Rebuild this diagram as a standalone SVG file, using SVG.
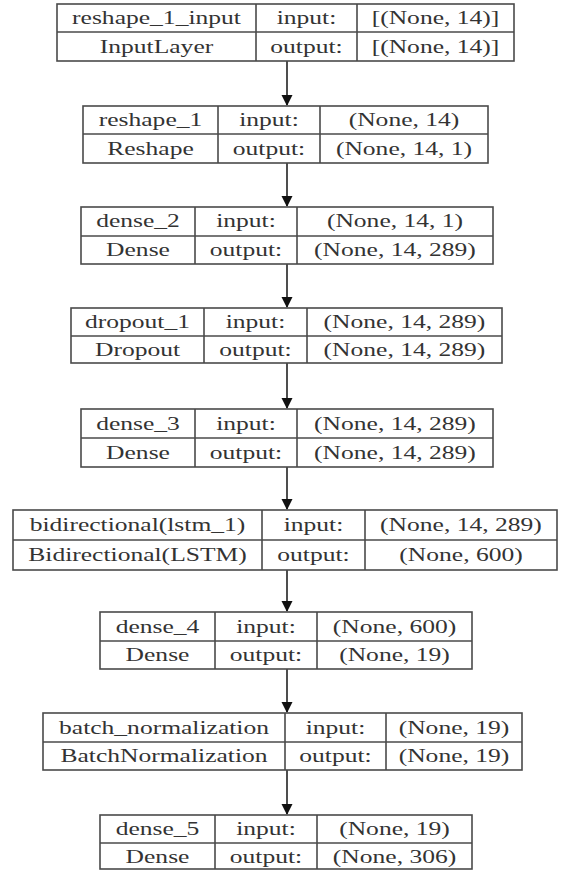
<svg xmlns="http://www.w3.org/2000/svg" width="565" height="871" viewBox="0 0 565 871">
<defs>
<style>
.box{fill:#fff;stroke:#4a4a4a;stroke-width:1.6}
.ln{stroke:#4a4a4a;stroke-width:1.6}
text{font-family:"Liberation Serif","Times New Roman",serif;font-size:18px;fill:#333;text-anchor:middle}
.edge{stroke:#222;stroke-width:1.6;fill:none}
</style>
<marker id="ah" markerWidth="12" markerHeight="12" refX="10" refY="5.5" orient="auto" markerUnits="userSpaceOnUse">
<path d="M0,0 L11,5.5 L0,11 z" fill="#111"/>
</marker>
</defs>
<rect width="565" height="871" fill="#fff"/>
<g id="connectors">
<line class="edge" x1="287" y1="61" x2="287" y2="105" marker-end="url(#ah)"/>
<line class="edge" x1="287" y1="163" x2="287" y2="206" marker-end="url(#ah)"/>
<line class="edge" x1="287" y1="264" x2="287" y2="307" marker-end="url(#ah)"/>
<line class="edge" x1="287" y1="363" x2="287" y2="408" marker-end="url(#ah)"/>
<line class="edge" x1="287" y1="467" x2="287" y2="509" marker-end="url(#ah)"/>
<line class="edge" x1="287" y1="570" x2="287" y2="611" marker-end="url(#ah)"/>
<line class="edge" x1="287" y1="669" x2="287" y2="712" marker-end="url(#ah)"/>
<line class="edge" x1="287" y1="770" x2="287" y2="814" marker-end="url(#ah)"/>
</g>
<g id="reshape_1_input">
<rect class="box" x="57" y="4" width="457" height="57"/>
<line class="ln" x1="57" y1="32" x2="514" y2="32"/>
<line class="ln" x1="256" y1="4" x2="256" y2="61"/>
<line class="ln" x1="357" y1="4" x2="357" y2="61"/>
<text transform="translate(156.5,24) scale(1.42,1)">reshape_1_input</text>
<text transform="translate(156.5,52.5) scale(1.42,1)">InputLayer</text>
<text transform="translate(306.5,24) scale(1.42,1)">input:</text>
<text transform="translate(306.5,52.5) scale(1.42,1)">output:</text>
<text transform="translate(435.5,24) scale(1.42,1)">[(None, 14)]</text>
<text transform="translate(435.5,52.5) scale(1.42,1)">[(None, 14)]</text>
</g>
<g id="reshape_1">
<rect class="box" x="83" y="106" width="405" height="57"/>
<line class="ln" x1="83" y1="134" x2="488" y2="134"/>
<line class="ln" x1="218" y1="106" x2="218" y2="163"/>
<line class="ln" x1="320" y1="106" x2="320" y2="163"/>
<text transform="translate(150.5,126) scale(1.42,1)">reshape_1</text>
<text transform="translate(150.5,154.5) scale(1.42,1)">Reshape</text>
<text transform="translate(269,126) scale(1.42,1)">input:</text>
<text transform="translate(269,154.5) scale(1.42,1)">output:</text>
<text transform="translate(404,126) scale(1.42,1)">(None, 14)</text>
<text transform="translate(404,154.5) scale(1.42,1)">(None, 14, 1)</text>
</g>
<g id="dense_2">
<rect class="box" x="81" y="207" width="412" height="57"/>
<line class="ln" x1="81" y1="236" x2="493" y2="236"/>
<line class="ln" x1="195" y1="207" x2="195" y2="264"/>
<line class="ln" x1="297" y1="207" x2="297" y2="264"/>
<text transform="translate(138,227) scale(1.42,1)">dense_2</text>
<text transform="translate(138,256) scale(1.42,1)">Dense</text>
<text transform="translate(246,227) scale(1.42,1)">input:</text>
<text transform="translate(246,256) scale(1.42,1)">output:</text>
<text transform="translate(395,227) scale(1.42,1)">(None, 14, 1)</text>
<text transform="translate(395,256) scale(1.42,1)">(None, 14, 289)</text>
</g>
<g id="dropout_1">
<rect class="box" x="71" y="308" width="431" height="55"/>
<line class="ln" x1="71" y1="336" x2="502" y2="336"/>
<line class="ln" x1="204" y1="308" x2="204" y2="363"/>
<line class="ln" x1="307" y1="308" x2="307" y2="363"/>
<text transform="translate(137.5,328) scale(1.42,1)">dropout_1</text>
<text transform="translate(137.5,355.5) scale(1.42,1)">Dropout</text>
<text transform="translate(255.5,328) scale(1.42,1)">input:</text>
<text transform="translate(255.5,355.5) scale(1.42,1)">output:</text>
<text transform="translate(404.5,328) scale(1.42,1)">(None, 14, 289)</text>
<text transform="translate(404.5,355.5) scale(1.42,1)">(None, 14, 289)</text>
</g>
<g id="dense_3">
<rect class="box" x="81" y="409" width="412" height="58"/>
<line class="ln" x1="81" y1="438" x2="493" y2="438"/>
<line class="ln" x1="195" y1="409" x2="195" y2="467"/>
<line class="ln" x1="297" y1="409" x2="297" y2="467"/>
<text transform="translate(138,429.5) scale(1.42,1)">dense_3</text>
<text transform="translate(138,458.5) scale(1.42,1)">Dense</text>
<text transform="translate(246,429.5) scale(1.42,1)">input:</text>
<text transform="translate(246,458.5) scale(1.42,1)">output:</text>
<text transform="translate(395,429.5) scale(1.42,1)">(None, 14, 289)</text>
<text transform="translate(395,458.5) scale(1.42,1)">(None, 14, 289)</text>
</g>
<g id="bidirectional">
<rect class="box" x="13" y="510" width="544" height="60"/>
<line class="ln" x1="13" y1="540" x2="557" y2="540"/>
<line class="ln" x1="262" y1="510" x2="262" y2="570"/>
<line class="ln" x1="365" y1="510" x2="365" y2="570"/>
<text transform="translate(137.5,531) scale(1.42,1)">bidirectional(lstm_1)</text>
<text transform="translate(137.5,561) scale(1.42,1)">Bidirectional(LSTM)</text>
<text transform="translate(313.5,531) scale(1.42,1)">input:</text>
<text transform="translate(313.5,561) scale(1.42,1)">output:</text>
<text transform="translate(461,531) scale(1.42,1)">(None, 14, 289)</text>
<text transform="translate(461,561) scale(1.42,1)">(None, 600)</text>
</g>
<g id="dense_4">
<rect class="box" x="100" y="612" width="372" height="57"/>
<line class="ln" x1="100" y1="641" x2="472" y2="641"/>
<line class="ln" x1="215" y1="612" x2="215" y2="669"/>
<line class="ln" x1="317" y1="612" x2="317" y2="669"/>
<text transform="translate(157.5,632.5) scale(1.42,1)">dense_4</text>
<text transform="translate(157.5,661) scale(1.42,1)">Dense</text>
<text transform="translate(266,632.5) scale(1.42,1)">input:</text>
<text transform="translate(266,661) scale(1.42,1)">output:</text>
<text transform="translate(394.5,632.5) scale(1.42,1)">(None, 600)</text>
<text transform="translate(394.5,661) scale(1.42,1)">(None, 19)</text>
</g>
<g id="batch_normalization">
<rect class="box" x="43" y="713" width="479" height="57"/>
<line class="ln" x1="43" y1="742" x2="522" y2="742"/>
<line class="ln" x1="285" y1="713" x2="285" y2="770"/>
<line class="ln" x1="386" y1="713" x2="386" y2="770"/>
<text transform="translate(164,733.5) scale(1.42,1)">batch_normalization</text>
<text transform="translate(164,762) scale(1.42,1)">BatchNormalization</text>
<text transform="translate(335.5,733.5) scale(1.42,1)">input:</text>
<text transform="translate(335.5,762) scale(1.42,1)">output:</text>
<text transform="translate(454,733.5) scale(1.42,1)">(None, 19)</text>
<text transform="translate(454,762) scale(1.42,1)">(None, 19)</text>
</g>
<g id="dense_5">
<rect class="box" x="100" y="815" width="372" height="54"/>
<line class="ln" x1="100" y1="843" x2="472" y2="843"/>
<line class="ln" x1="215" y1="815" x2="215" y2="869"/>
<line class="ln" x1="317" y1="815" x2="317" y2="869"/>
<text transform="translate(157.5,835) scale(1.42,1)">dense_5</text>
<text transform="translate(157.5,862.5) scale(1.42,1)">Dense</text>
<text transform="translate(266,835) scale(1.42,1)">input:</text>
<text transform="translate(266,862.5) scale(1.42,1)">output:</text>
<text transform="translate(394.5,835) scale(1.42,1)">(None, 19)</text>
<text transform="translate(394.5,862.5) scale(1.42,1)">(None, 306)</text>
</g>
</svg>
